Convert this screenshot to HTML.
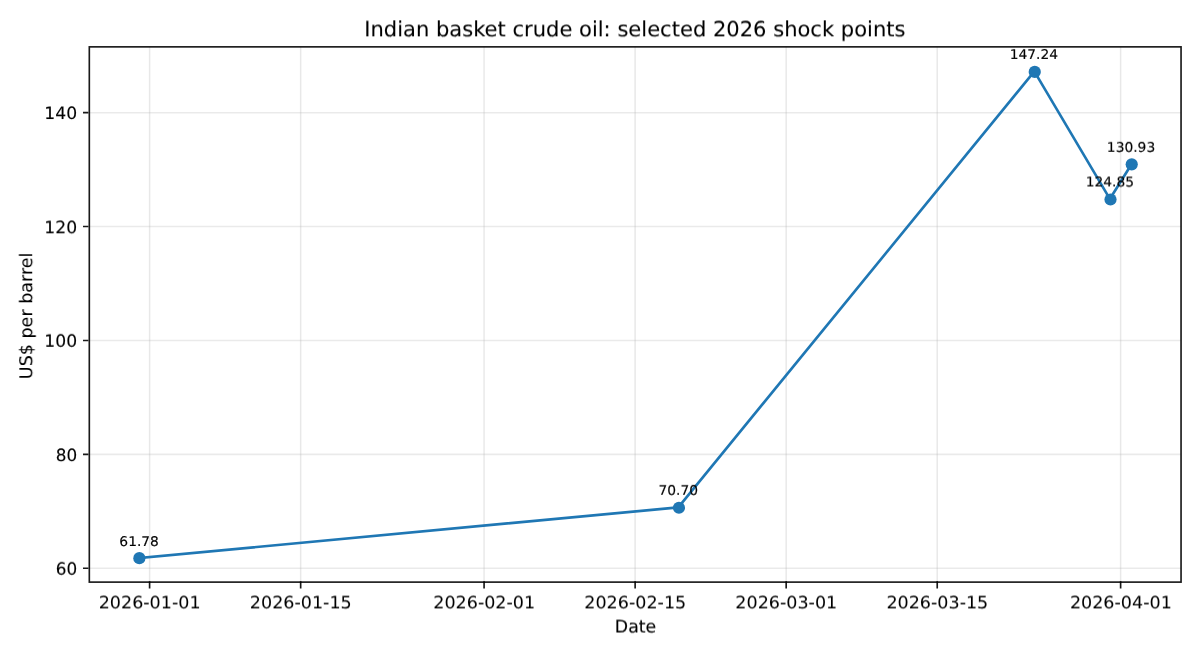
<!DOCTYPE html><html><head><meta charset="utf-8"><title>Indian basket crude oil</title>
<style>html,body{margin:0;padding:0;background:#fff}body{width:1200px;height:656px;overflow:hidden}svg{display:block}text{font-family:"DejaVu Sans","Liberation Sans",sans-serif;fill:#000;text-rendering:geometricPrecision}</style></head><body>
<svg width="1200" height="656" viewBox="0 0 1200 656">
<rect width="1200" height="656" fill="#fff"/>
<defs><filter id="x20" x="-10%" y="-60%" width="120%" height="220%" color-interpolation-filters="sRGB"><feOffset dx="1" result="o"/><feComposite in="SourceGraphic" in2="o" operator="arithmetic" k2="0.80" k3="0.20"/></filter><filter id="y05" x="-10%" y="-60%" width="120%" height="220%" color-interpolation-filters="sRGB"><feOffset dy="1" result="o"/><feComposite in="SourceGraphic" in2="o" operator="arithmetic" k2="0.95" k3="0.05"/></filter><filter id="y10" x="-10%" y="-60%" width="120%" height="220%" color-interpolation-filters="sRGB"><feOffset dy="1" result="o"/><feComposite in="SourceGraphic" in2="o" operator="arithmetic" k2="0.90" k3="0.10"/></filter><filter id="y30" x="-10%" y="-60%" width="120%" height="220%" color-interpolation-filters="sRGB"><feOffset dy="1" result="o"/><feComposite in="SourceGraphic" in2="o" operator="arithmetic" k2="0.70" k3="0.30"/></filter><filter id="y35" x="-10%" y="-60%" width="120%" height="220%" color-interpolation-filters="sRGB"><feOffset dy="1" result="o"/><feComposite in="SourceGraphic" in2="o" operator="arithmetic" k2="0.65" k3="0.35"/></filter><filter id="y40" x="-10%" y="-60%" width="120%" height="220%" color-interpolation-filters="sRGB"><feOffset dy="1" result="o"/><feComposite in="SourceGraphic" in2="o" operator="arithmetic" k2="0.60" k3="0.40"/></filter><filter id="y45" x="-10%" y="-60%" width="120%" height="220%" color-interpolation-filters="sRGB"><feOffset dy="1" result="o"/><feComposite in="SourceGraphic" in2="o" operator="arithmetic" k2="0.55" k3="0.45"/></filter><filter id="y50" x="-10%" y="-60%" width="120%" height="220%" color-interpolation-filters="sRGB"><feOffset dy="1" result="o"/><feComposite in="SourceGraphic" in2="o" operator="arithmetic" k2="0.50" k3="0.50"/></filter><filter id="y75" x="-10%" y="-60%" width="120%" height="220%" color-interpolation-filters="sRGB"><feOffset dy="1" result="o"/><feComposite in="SourceGraphic" in2="o" operator="arithmetic" k2="0.25" k3="0.75"/></filter><filter id="y80" x="-10%" y="-60%" width="120%" height="220%" color-interpolation-filters="sRGB"><feOffset dy="1" result="o"/><feComposite in="SourceGraphic" in2="o" operator="arithmetic" k2="0.20" k3="0.80"/></filter><filter id="y85" x="-10%" y="-60%" width="120%" height="220%" color-interpolation-filters="sRGB"><feOffset dy="1" result="o"/><feComposite in="SourceGraphic" in2="o" operator="arithmetic" k2="0.15" k3="0.85"/></filter><filter id="y95" x="-10%" y="-60%" width="120%" height="220%" color-interpolation-filters="sRGB"><feOffset dy="1" result="o"/><feComposite in="SourceGraphic" in2="o" operator="arithmetic" k2="0.05" k3="0.95"/></filter></defs>
<path d="M149.60 46.86V582.11M300.66 46.86V582.11M484.08 46.86V582.11M635.13 46.86V582.11M786.17 46.86V582.11M937.22 46.86V582.11M1120.62 46.86V582.11" stroke="#b0b0b0" stroke-opacity="0.285" stroke-width="1.48" fill="none"/>
<path d="M89.32 568.30H1181.05M89.32 454.38H1181.05M89.32 340.47H1181.05M89.32 226.53H1181.05M89.32 112.66H1181.05" stroke="#b0b0b0" stroke-opacity="0.27" stroke-width="1.56" fill="none"/>
<path d="M138.87 558.14 L678.30 507.34 L1034.33 71.43 L1109.85 198.95 L1131.43 164.32" stroke="#1f77b4" stroke-width="2.63" fill="none" stroke-linejoin="round" stroke-linecap="square"/>
<circle cx="139.36" cy="558.18" r="6.1" fill="#1f77b4"/>
<circle cx="678.95" cy="507.77" r="6.1" fill="#1f77b4"/>
<circle cx="1034.75" cy="71.88" r="6.1" fill="#1f77b4"/>
<circle cx="1110.50" cy="199.50" r="6.1" fill="#1f77b4"/>
<circle cx="1131.72" cy="164.34" r="6.1" fill="#1f77b4"/>
<path d="M149.60 581.21V588.42M300.66 581.21V588.42M484.08 581.21V588.42M635.13 581.21V588.42M786.17 581.21V588.42M937.22 581.21V588.42M1120.62 581.21V588.42" stroke="#000" stroke-opacity="0.9" stroke-width="1.649" fill="none"/>
<path d="M83.01 568.30H88.42M83.01 454.38H88.42M83.01 340.47H88.42M83.01 226.53H88.42M83.01 112.66H88.42" stroke="#000" stroke-opacity="0.9" stroke-width="1.647" fill="none"/>
<rect x="89.32" y="46.86" width="1091.73" height="535.25" fill="none" stroke="#000" stroke-opacity="0.9" stroke-width="1.649"/>
<g filter="url(#y40)"><text transform="translate(149.61 608.00) scale(1.0000 0.9750)" font-size="17.54" text-anchor="middle" stroke="#000" stroke-width="0.035">2026-01-01</text></g>
<g filter="url(#y40)"><text transform="translate(300.80 608.00) scale(1.0000 0.9750)" font-size="17.54" text-anchor="middle" stroke="#000" stroke-width="0.035">2026-01-15</text></g>
<g filter="url(#y40)"><text transform="translate(484.21 608.00) scale(1.0000 0.9750)" font-size="17.54" text-anchor="middle" stroke="#000" stroke-width="0.035">2026-02-01</text></g>
<g filter="url(#y40)"><text transform="translate(635.25 608.00) scale(1.0000 0.9750)" font-size="17.54" text-anchor="middle" stroke="#000" stroke-width="0.035">2026-02-15</text></g>
<g filter="url(#y40)"><text transform="translate(786.29 608.00) scale(1.0000 0.9750)" font-size="17.54" text-anchor="middle" stroke="#000" stroke-width="0.035">2026-03-01</text></g>
<g filter="url(#y40)"><text transform="translate(937.33 608.00) scale(1.0000 0.9750)" font-size="17.54" text-anchor="middle" stroke="#000" stroke-width="0.035">2026-03-15</text></g>
<g filter="url(#y40)"><text transform="translate(1120.84 608.00) scale(1.0000 0.9750)" font-size="17.54" text-anchor="middle" stroke="#000" stroke-width="0.035">2026-04-01</text></g>
<g filter="url(#y75)"><text transform="translate(77.15 574.00) scale(0.9600 0.9750)" font-size="17.54" text-anchor="end" stroke="#000" stroke-width="0.13">60</text></g>
<g filter="url(#y10)"><text transform="translate(77.15 461.00) scale(0.9600 0.9750)" font-size="17.54" text-anchor="end" stroke="#000" stroke-width="0.13">80</text></g>
<g filter="url(#y80)"><text transform="translate(77.15 346.00) scale(0.9800 0.9750)" font-size="17.54" text-anchor="end" stroke="#000" stroke-width="0.13">100</text></g>
<g filter="url(#y30)"><text transform="translate(77.15 233.00) scale(0.9800 0.9750)" font-size="17.54" text-anchor="end" stroke="#000" stroke-width="0.13">120</text></g>
<g filter="url(#y05)"><text transform="translate(77.15 119.00) scale(0.9800 0.9750)" font-size="17.54" text-anchor="end" stroke="#000" stroke-width="0.13">140</text></g>
<text transform="translate(139.12 546.00) scale(0.9850 0.9500)" font-size="14.04" text-anchor="middle" stroke="#000" stroke-width="0.155">61.78</text>
<g filter="url(#y85)"><text transform="translate(678.30 494.00) scale(0.9850 0.9500)" font-size="14.04" text-anchor="middle" stroke="#000" stroke-width="0.155">70.70</text></g>
<g filter="url(#y95)"><text transform="translate(1033.90 58.00) scale(0.9850 0.9500)" font-size="14.04" text-anchor="middle" stroke="#000" stroke-width="0.155">147.24</text></g>
<g filter="url(#y45)"><text transform="translate(1109.85 186.00) scale(0.9850 0.9500)" font-size="14.04" text-anchor="middle" stroke="#000" stroke-width="0.155">124.85</text></g>
<g filter="url(#y80)"><text transform="translate(1131.03 151.00) scale(0.9850 0.9500)" font-size="14.04" text-anchor="middle" stroke="#000" stroke-width="0.155">130.93</text></g>
<g filter="url(#y35)"><text transform="translate(634.86 36.00) scale(1.0000 1.0000)" font-size="21.05" text-anchor="middle" stroke="#000" stroke-width="0.075">Indian basket crude oil: selected 2026 shock points</text></g>
<g filter="url(#y50)"><text transform="translate(635.50 632.00) scale(0.9880 1.0000)" font-size="17.54" text-anchor="middle" stroke="#000" stroke-width="0.125">Date</text></g>
<g filter="url(#x20)"><text transform="translate(32.00 315.88) rotate(-90) scale(1.0000 1.0000)" font-size="17.54" text-anchor="middle" stroke="#000" stroke-width="0.017">US$ per barrel</text></g>
</svg></body></html>
